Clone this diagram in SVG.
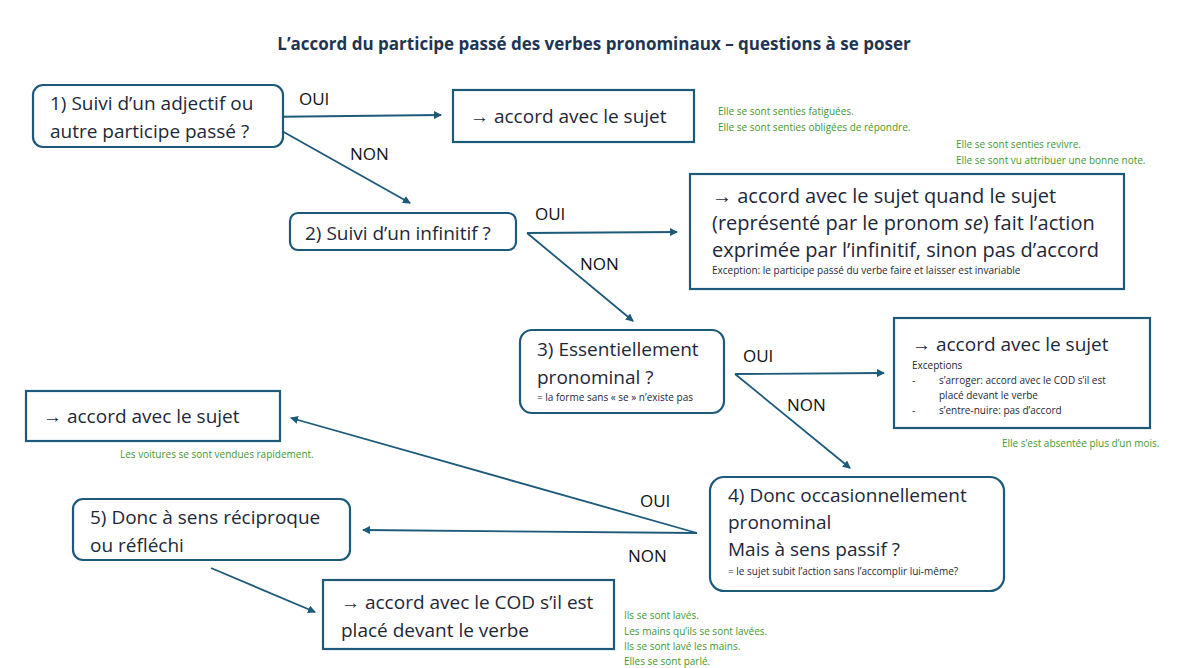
<svg xmlns="http://www.w3.org/2000/svg" width="1183" height="668" viewBox="0 0 1183 668">
<style>
text{font-family:"Open Sans","Liberation Sans",sans-serif;fill:#1e2838}
.t{font-size:17px;font-weight:bold;fill:#1f3552}
.b{font-size:19px}
.l{font-size:20px}
.s{font-size:10px}
.g{font-size:10px;fill:#3f9a2e}
.lab{font-size:17px;fill:#111}
.box{fill:#fff;stroke:#1d5a7a;stroke-width:2.2}
.ln{stroke:#1d5a7a;stroke-width:1.8;fill:none;marker-end:url(#ah)}
</style>
<defs><marker id="ah" markerWidth="8" markerHeight="8" refX="7" refY="4" orient="auto" markerUnits="userSpaceOnUse"><path d="M0,0L8,4L0,8z" fill="#1d5a7a"/></marker></defs>
<rect width="1183" height="668" fill="#fff"/>
<text class="t" x="594" y="50" text-anchor="middle">L’accord du participe passé des verbes pronominaux – questions à se poser</text>
<g id="connectors">
<path class="ln" d="M257,117L441,115"/><path class="ln" d="M257,117L410,203"/>
<path class="ln" d="M527,233L677,232"/><path class="ln" d="M527,233L633,321"/>
<path class="ln" d="M735,374L884,373"/><path class="ln" d="M735,374L850,468"/>
<path class="ln" d="M697,533L291,418"/><path class="ln" d="M697,533L363,530"/>
<path class="ln" d="M211,568L315,612"/>
<text class="lab" x="299" y="105">OUI</text><text class="lab" x="350" y="160">NON</text>
<text class="lab" x="535" y="220">OUI</text><text class="lab" x="580" y="270">NON</text>
<text class="lab" x="743" y="362">OUI</text><text class="lab" x="787" y="411">NON</text>
<text class="lab" x="640" y="507">OUI</text><text class="lab" x="628" y="562">NON</text>
</g>
<g id="q1"><rect class="box" x="33" y="85" width="250" height="62" rx="10"/><text class="b" x="50" y="110">1) Suivi d’un adjectif ou</text><text class="b" x="50" y="138">autre participe passé ?</text></g>
<g id="a1"><rect class="box" x="453" y="90" width="241" height="52"/><text class="b" x="470" y="123">→ accord avec le sujet</text></g>
<g id="ex1"><text class="g" x="718" y="115">Elle se sont senties fatiguées.</text><text class="g" x="718" y="131">Elle se sont senties obligées de répondre.</text>
<text class="g" x="956" y="148">Elle se sont senties revivre.</text><text class="g" x="956" y="164">Elle se sont vu attribuer une bonne note.</text></g>
<g id="q2"><rect class="box" x="290" y="213" width="226" height="37" rx="8"/><text class="b" x="305" y="240">2) Suivi d’un infinitif ?</text></g>
<g id="a2"><rect class="box" x="690" y="174" width="434" height="115"/>
<text class="l" x="712" y="203">→ accord avec le sujet quand le sujet</text>
<text class="l" x="712" y="230">(représenté par le pronom <tspan font-style="italic">se</tspan>) fait l’action</text>
<text class="l" x="712" y="257">exprimée par l’infinitif, sinon pas d’accord</text>
<text class="s" x="712" y="274">Exception: le participe passé du verbe faire et laisser est invariable</text></g>
<g id="q3"><rect class="box" x="520" y="330" width="204" height="83" rx="12"/><text class="b" x="537" y="356">3) Essentiellement</text><text class="b" x="537" y="384">pronominal ?</text><text class="s" x="537" y="401" font-size="9">= la forme sans « se » n’existe pas</text></g>
<g id="a3"><rect class="box" x="894" y="318" width="256" height="110"/>
<text class="b" x="912" y="351">→ accord avec le sujet</text>
<text class="s" x="912" y="369">Exceptions</text>
<text class="s" x="912" y="384">-</text><text class="s" x="939" y="384">s’arroger: accord avec le COD s’il est</text>
<text class="s" x="939" y="399">placé devant le verbe</text>
<text class="s" x="912" y="414">-</text><text class="s" x="939" y="414">s’entre-nuire: pas d’accord</text></g>
<g id="ex3"><text class="g" x="1002" y="447">Elle s’est absentée plus d’un mois.</text></g>
<g id="q4"><rect class="box" x="710" y="477" width="294" height="114" rx="14"/>
<text class="b" x="728" y="502">4) Donc occasionnellement</text><text class="b" x="728" y="529">pronominal</text><text class="b" x="728" y="556">Mais à sens passif ?</text>
<text class="s" x="728" y="575" font-size="9.5">= le sujet subit l’action sans l’accomplir lui-même?</text></g>
<g id="a4"><rect class="box" x="26" y="391" width="254" height="50"/><text class="b" x="43" y="423">→ accord avec le sujet</text></g>
<g id="ex4"><text class="g" x="120" y="458">Les voitures se sont vendues rapidement.</text></g>
<g id="q5"><rect class="box" x="73" y="499" width="277" height="61" rx="10"/><text class="b" x="90" y="524">5) Donc à sens réciproque</text><text class="b" x="90" y="552">ou réfléchi</text></g>
<g id="a5"><rect class="box" x="323" y="580" width="291" height="69"/><text class="b" x="341" y="609">→ accord avec le COD s’il est</text><text class="b" x="341" y="637">placé devant le verbe</text></g>
<g id="ex5"><text class="g" x="624" y="619">Ils se sont lavés.</text><text class="g" x="624" y="635">Les mains qu’ils se sont lavées.</text><text class="g" x="624" y="650">Ils se sont lavé les mains.</text><text class="g" x="624" y="665">Elles se sont parlé.</text></g>
</svg>
